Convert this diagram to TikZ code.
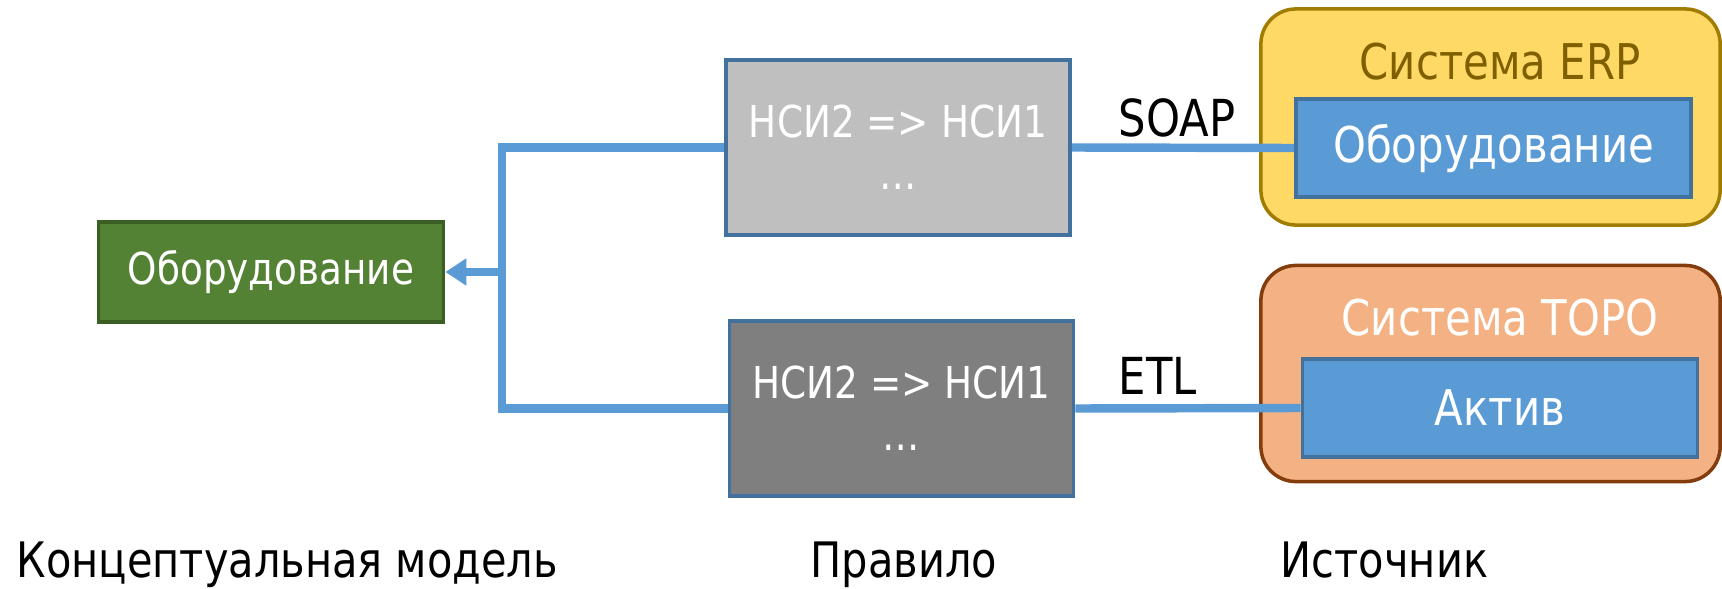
\documentclass[tikz,border=0pt]{standalone}
\usepackage{fontspec}
\setmainfont{DejaVu Sans}[FakeStretch=0.85]
\usetikzlibrary{arrows.meta}
\definecolor{lineblue}{HTML}{5B9BD5}
\definecolor{edgeblue}{HTML}{41719C}
\definecolor{modelgreen}{HTML}{548235}
\definecolor{modeledge}{HTML}{3B5E25}
\definecolor{rulelight}{HTML}{BFBFBF}
\definecolor{ruledark}{HTML}{7F7F7F}
\definecolor{erpfill}{HTML}{FFD966}
\definecolor{erpedge}{HTML}{A07C00}
\definecolor{erptext}{HTML}{7F6000}
\definecolor{topofill}{HTML}{F4B183}
\definecolor{topoedge}{HTML}{843C0C}
\tikzset{
  txt/.style={font=\fontsize{12.5}{14.8}\selectfont},
  bigtxt/.style={font=\fontsize{14}{16}\selectfont},
  captxt/.style={font=\fontsize{13.9}{16}\selectfont, anchor=base west, inner sep=0pt},
  rulebox/.style={draw=edgeblue, line width=1pt, minimum width=3.44cm, minimum height=1.75cm, align=center, text=white, txt},
  entitybox/.style={draw=edgeblue, line width=1pt, fill=lineblue, minimum width=3.95cm, minimum height=0.98cm, text=white, bigtxt},
  sysbox/.style={line width=1pt, rounded corners=0.35cm, minimum width=4.59cm, minimum height=2.16cm},
  link/.style={draw=lineblue, line width=2.4pt}
}
\begin{document}
\begin{tikzpicture}[x=0.01cm, y=-0.01cm]
  \useasboundingbox (0,0) rectangle (1722,588);
  \node [sysbox, draw=erpedge, fill=erpfill] (erp) at (1490.5,117) {};
  \node [sysbox, draw=topoedge, fill=topofill] (topo) at (1490.5,373.5) {};
  \node [bigtxt, text=erptext] (erptitle) at (1500,62) {Система ERP};
  \node [bigtxt, text=white] (topotitle) at (1500,318) {Система TOPO};
  \node [entitybox] (erpitem) at (1493.5,148) {Оборудование};
  \node [entitybox] (topoitem) at (1500,408) {Актив};
  \node [rulebox, fill=rulelight] (ruleA) at (898,147.5) {НСИ2 => НСИ1\\…};
  \node [rulebox, fill=ruledark] (ruleB) at (901.5,408.5) {НСИ2 => НСИ1\\…};
  \node [draw=modeledge, line width=1pt, fill=modelgreen, minimum width=3.45cm, minimum height=1cm, text=white, txt] (model) at (271,272) {Оборудование};
  \coordinate (junc) at (502,272);
  \draw [link] (ruleA.west) -| (junc) |- (ruleB.west);
  \draw [link, -{Triangle[width=0.26cm, length=0.21cm]}] (junc) -- (model.east);
  \draw [link] (ruleA.east) -- (erpitem.west);
  \draw [link] (ruleB.east) -- (topoitem.west);
  \node [bigtxt, font=\fontsize{14.5}{17}\selectfont, anchor=west, inner sep=0pt] (soap) at (1118,118) {SOAP};
  \node [bigtxt, font=\fontsize{14.5}{17}\selectfont, anchor=west, inner sep=0pt] (etl) at (1118,376) {ETL};
  \node [captxt] (lblmodel) at (16,577) {Концептуальная модель};
  \node [captxt] (lblrule) at (810,577) {Правило};
  \node [captxt] (lblsource) at (1280,577) {Источник};
\end{tikzpicture}
\end{document}
